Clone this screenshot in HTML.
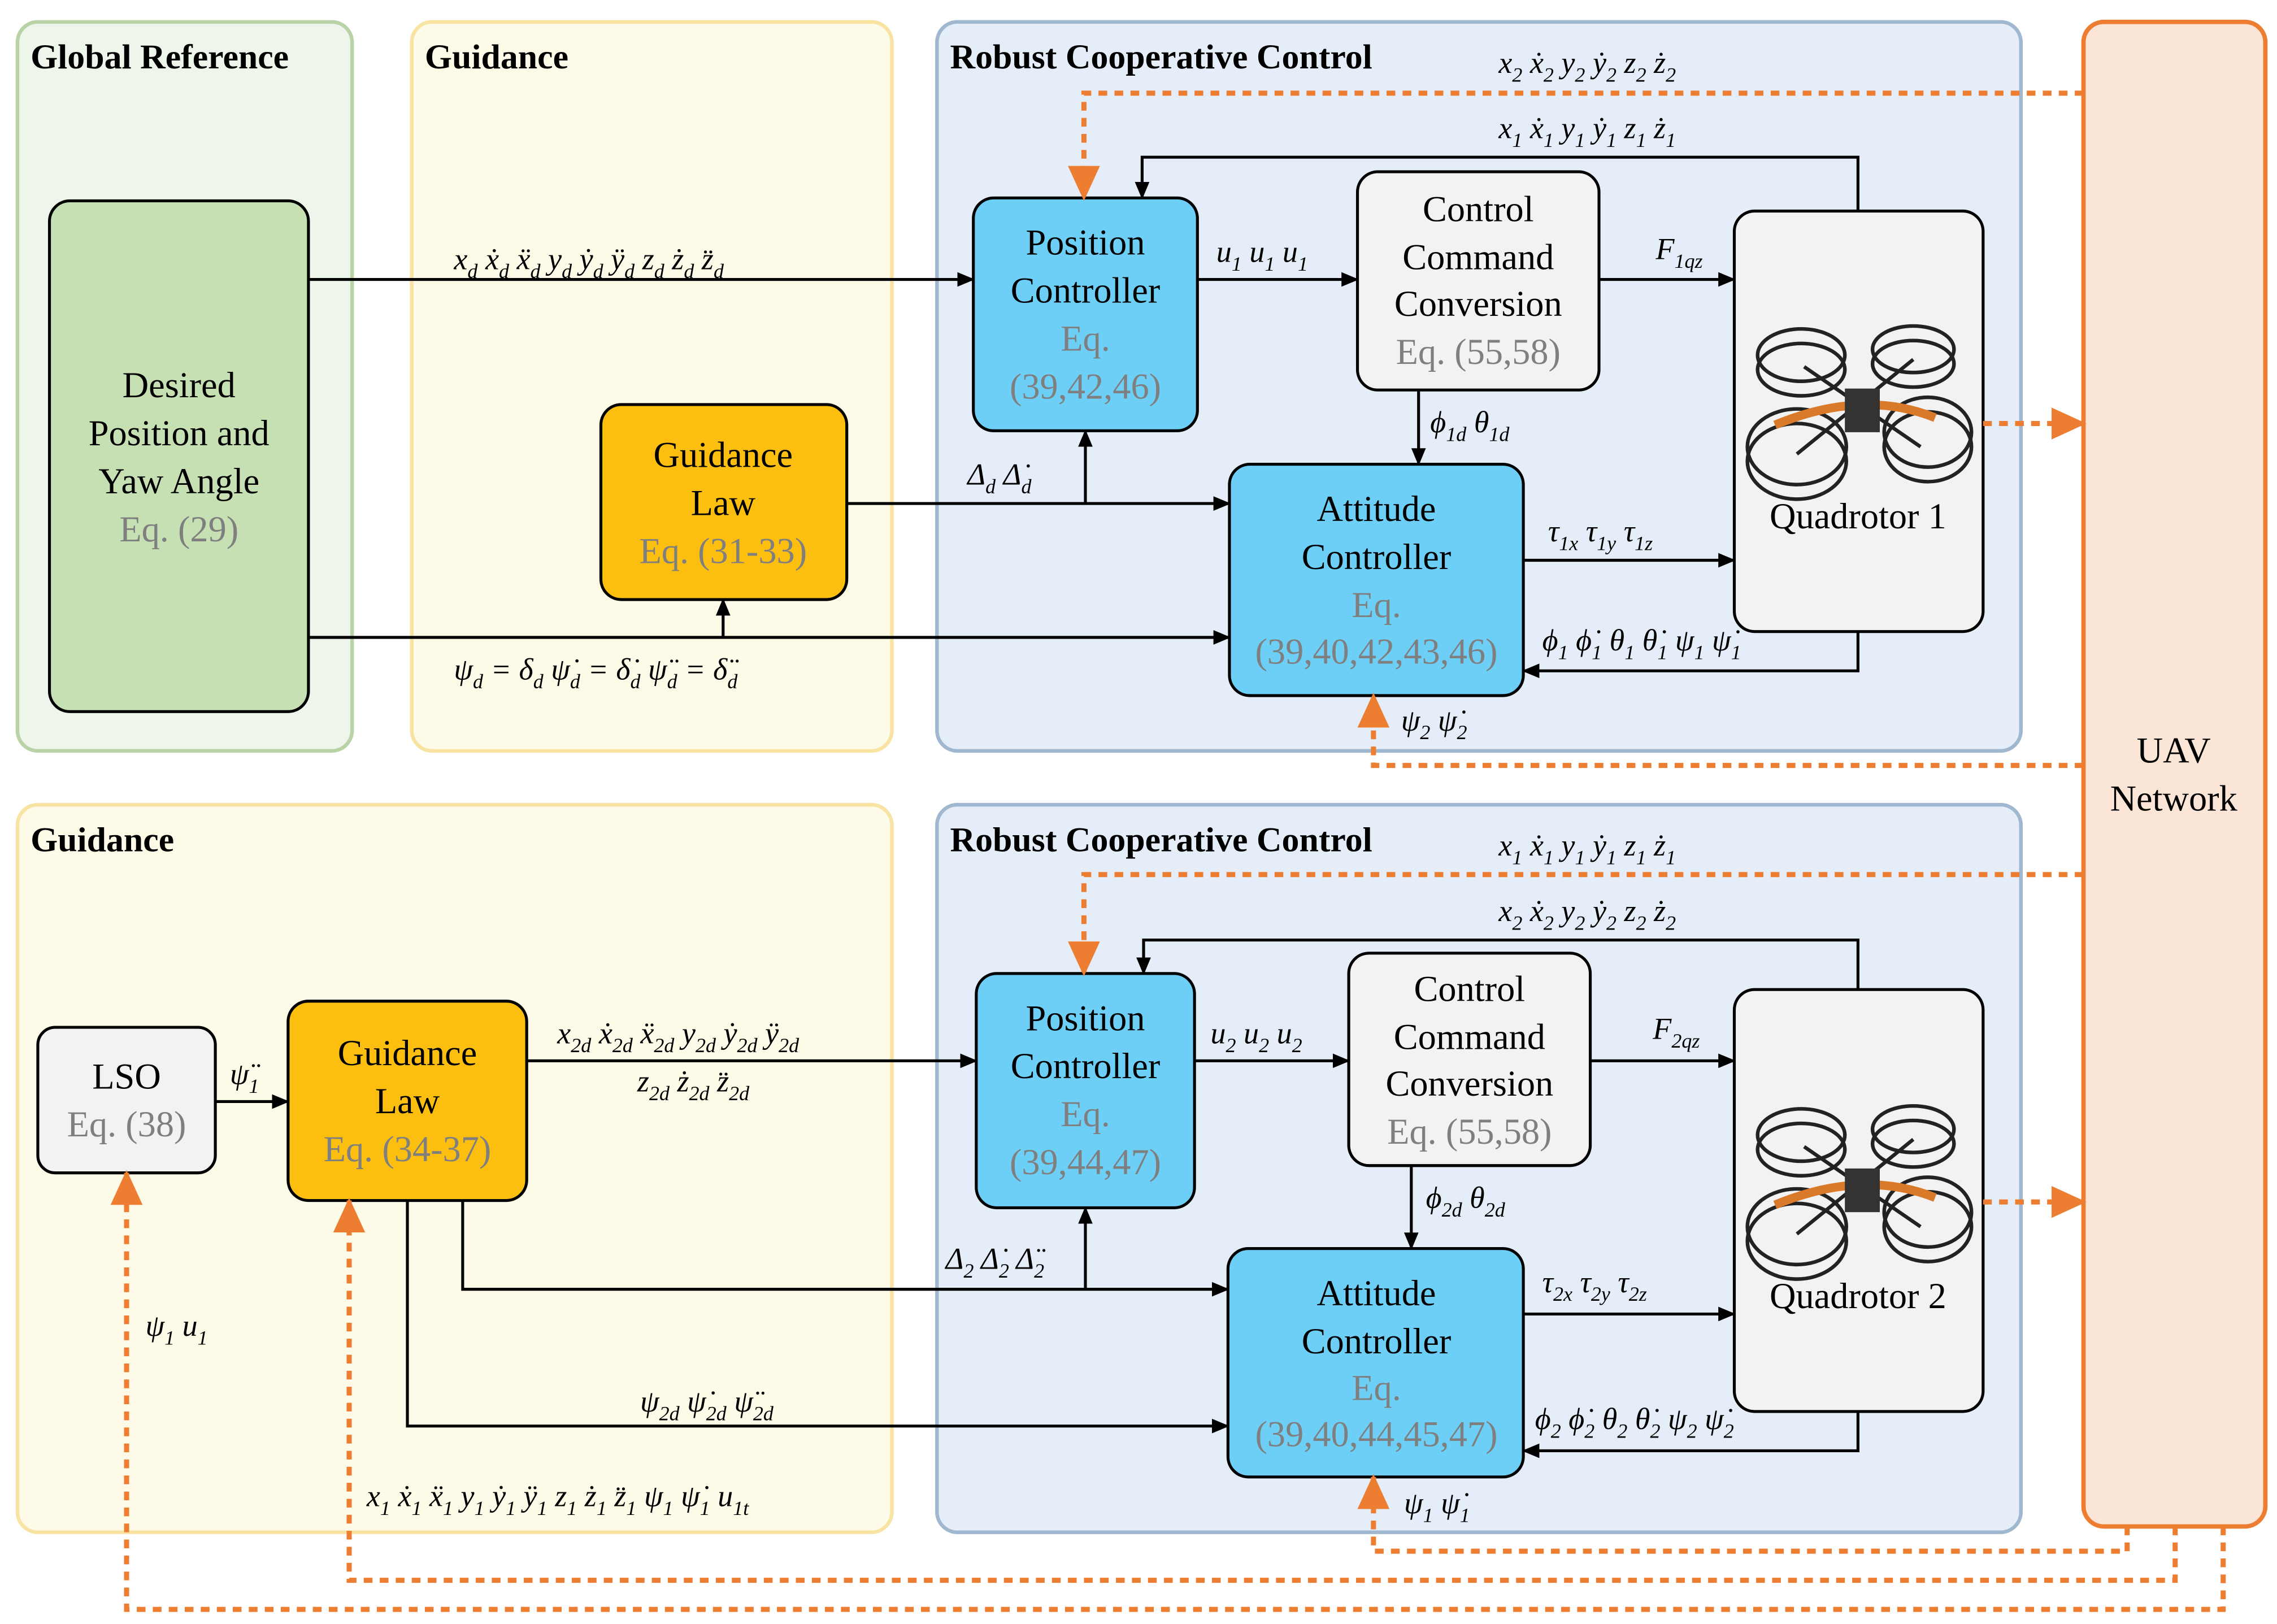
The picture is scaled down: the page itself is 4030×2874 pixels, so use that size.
<!DOCTYPE html>
<html><head><meta charset="utf-8"><style>
html,body{margin:0;padding:0;background:#fff}
svg{display:block}
text{font-family:"Liberation Serif",serif}
.h{font-weight:bold;font-size:24px}
.b{font-size:25px;text-anchor:middle}
.g{fill:#7f7f7f}
.m{font-style:italic;font-size:21px}
.s{font-size:14px}
.k{stroke:#000;stroke-width:2;fill:none}
.o{stroke:#ed7d31;stroke-width:3.5;fill:none;stroke-dasharray:6,5}
</style></head><body>
<svg width="4030" height="2874" viewBox="0 0 1565 1116" xmlns="http://www.w3.org/2000/svg">
<defs>
<marker id="a" markerWidth="12" markerHeight="10" refX="11" refY="5" orient="auto" markerUnits="userSpaceOnUse"><path d="M0,0 L12,5 L0,10z" fill="#000"/></marker>
<marker id="ao" markerWidth="24" markerHeight="22" refX="22" refY="11" orient="auto" markerUnits="userSpaceOnUse"><path d="M0,0 L24,11 L0,22z" fill="#ed7d31"/></marker>
<g id="drone">
<g stroke="#222" stroke-width="2.5" fill="none">
<ellipse cx="-42" cy="-38" rx="30" ry="18"/><ellipse cx="-42" cy="-28" rx="30" ry="18"/>
<ellipse cx="35" cy="-42" rx="28" ry="16"/><ellipse cx="35" cy="-32" rx="28" ry="16"/>
<ellipse cx="-45" cy="25" rx="34" ry="26"/><ellipse cx="-45" cy="35" rx="34" ry="26"/>
<ellipse cx="45" cy="15" rx="30" ry="24"/><ellipse cx="45" cy="25" rx="30" ry="24"/>
<path d="M-40,-30 L40,25 M35,-35 L-45,30"/>
</g>
<path d="M-60,10 Q0,-15 50,5" stroke="#d87a2a" stroke-width="6" fill="none"/>
<rect x="-12" y="-15" width="24" height="30" fill="#333"/>
</g>
</defs>

<rect x="12" y="15" width="230" height="501" rx="14" fill="#eef5ea" stroke="#b9d3a7" stroke-width="2.5"/>
<rect x="283" y="15" width="330" height="501" rx="14" fill="#fdfbe8" stroke="#f9e3a3" stroke-width="2.5"/>
<rect x="644" y="15" width="745" height="501" rx="14" fill="#e5eef8" stroke="#9fb7cf" stroke-width="2.5"/>
<rect x="12" y="553" width="601" height="500" rx="14" fill="#fdfbe8" stroke="#f9e3a3" stroke-width="2.5"/>
<rect x="644" y="553" width="745" height="500" rx="14" fill="#e5eef8" stroke="#9fb7cf" stroke-width="2.5"/>
<rect x="1432" y="15" width="125" height="1034" rx="14" fill="#fbe5d6" stroke="#ed7d31" stroke-width="3"/>

<text class="h" x="21" y="47">Global Reference</text>
<text class="h" x="292" y="47">Guidance</text>
<text class="h" x="653" y="47">Robust Cooperative Control</text>
<text class="h" x="21" y="585">Guidance</text>
<text class="h" x="653" y="585">Robust Cooperative Control</text>
<text class="b" x="1494" y="524">UAV</text><text class="b" x="1494" y="557">Network</text>

<rect x="34" y="138" width="178" height="351" rx="14" fill="#c6e0b4" stroke="#000" stroke-width="2"/>
<text class="b" x="123" y="273">Desired</text><text class="b" x="123" y="306">Position and</text><text class="b" x="123" y="339">Yaw Angle</text><text class="b g" x="123" y="372">Eq. (29)</text>
<rect x="413" y="278" width="169" height="134" rx="14" fill="#fcbf10" stroke="#000" stroke-width="2"/>
<text class="b" x="497" y="321">Guidance</text><text class="b" x="497" y="354">Law</text><text class="b g" x="497" y="387">Eq. (31-33)</text>
<rect x="669" y="136" width="154" height="160" rx="14" fill="#6dcff6" stroke="#000" stroke-width="2"/>
<text class="b" x="746" y="175">Position</text><text class="b" x="746" y="208">Controller</text><text class="b g" x="746" y="241">Eq.</text><text class="b g" x="746" y="274">(39,42,46)</text>
<rect x="933" y="118" width="166" height="150" rx="14" fill="#f2f2f2" stroke="#000" stroke-width="2"/>
<text class="b" x="1016" y="152">Control</text><text class="b" x="1016" y="185">Command</text><text class="b" x="1016" y="217">Conversion</text><text class="b g" x="1016" y="250">Eq. (55,58)</text>
<rect x="845" y="319" width="202" height="159" rx="14" fill="#6dcff6" stroke="#000" stroke-width="2"/>
<text class="b" x="946" y="358">Attitude</text><text class="b" x="946" y="391">Controller</text><text class="b g" x="946" y="424">Eq.</text><text class="b g" x="946" y="456">(39,40,42,43,46)</text>
<rect x="1192" y="145" width="171" height="289" rx="14" fill="#f2f2f2" stroke="#000" stroke-width="2"/>
<use href="#drone" x="1280" y="282"/>
<text class="b" x="1277" y="363">Quadrotor 1</text>

<rect x="26" y="706" width="122" height="100" rx="12" fill="#f2f2f2" stroke="#000" stroke-width="2"/>
<text class="b" x="87" y="748">LSO</text><text class="b g" x="87" y="781">Eq. (38)</text>
<rect x="198" y="688" width="164" height="137" rx="14" fill="#fcbf10" stroke="#000" stroke-width="2"/>
<text class="b" x="280" y="732">Guidance</text><text class="b" x="280" y="765">Law</text><text class="b g" x="280" y="798">Eq. (34-37)</text>
<rect x="671" y="669" width="150" height="161" rx="14" fill="#6dcff6" stroke="#000" stroke-width="2"/>
<text class="b" x="746" y="708">Position</text><text class="b" x="746" y="741">Controller</text><text class="b g" x="746" y="774">Eq.</text><text class="b g" x="746" y="807">(39,44,47)</text>
<rect x="927" y="655" width="166" height="146" rx="14" fill="#f2f2f2" stroke="#000" stroke-width="2"/>
<text class="b" x="1010" y="688">Control</text><text class="b" x="1010" y="721">Command</text><text class="b" x="1010" y="753">Conversion</text><text class="b g" x="1010" y="786">Eq. (55,58)</text>
<rect x="844" y="858" width="203" height="157" rx="14" fill="#6dcff6" stroke="#000" stroke-width="2"/>
<text class="b" x="946" y="897">Attitude</text><text class="b" x="946" y="930">Controller</text><text class="b g" x="946" y="962">Eq.</text><text class="b g" x="946" y="994">(39,40,44,45,47)</text>
<rect x="1192" y="680" width="171" height="290" rx="14" fill="#f2f2f2" stroke="#000" stroke-width="2"/>
<use href="#drone" x="1280" y="818"/>
<text class="b" x="1277" y="899">Quadrotor 2</text>

<path class="k" d="M212,192 H669" marker-end="url(#a)"/>
<path class="k" d="M212,438 H845" marker-end="url(#a)"/>
<path class="k" d="M497,438 V412" marker-end="url(#a)"/>
<path class="k" d="M582,346 H845" marker-end="url(#a)"/>
<path class="k" d="M746,346 V296" marker-end="url(#a)"/>
<path class="k" d="M823,192 H933" marker-end="url(#a)"/>
<path class="k" d="M1099,192 H1192" marker-end="url(#a)"/>
<path class="k" d="M975,268 V319" marker-end="url(#a)"/>
<path class="k" d="M1047,385 H1192" marker-end="url(#a)"/>
<path class="k" d="M1277,145 V108 H785 V136" marker-end="url(#a)"/>
<path class="k" d="M1277,434 V461 H1047" marker-end="url(#a)"/>
<path class="o" d="M1432,64 H745 V136" marker-end="url(#ao)"/>
<path class="o" d="M1432,526 H944 V478" marker-end="url(#ao)"/>
<path class="o" d="M1363,291 H1432" marker-end="url(#ao)"/>

<path class="k" d="M148,757 H198" marker-end="url(#a)"/>
<path class="k" d="M362,729 H671" marker-end="url(#a)"/>
<path class="k" d="M318,825 V886 H844" marker-end="url(#a)"/>
<path class="k" d="M746,886 V830" marker-end="url(#a)"/>
<path class="k" d="M280,825 V980 H844" marker-end="url(#a)"/>
<path class="k" d="M821,729 H927" marker-end="url(#a)"/>
<path class="k" d="M1093,729 H1192" marker-end="url(#a)"/>
<path class="k" d="M970,801 V858" marker-end="url(#a)"/>
<path class="k" d="M1047,903 H1192" marker-end="url(#a)"/>
<path class="k" d="M1277,680 V646 H786 V669" marker-end="url(#a)"/>
<path class="k" d="M1277,970 V997 H1047" marker-end="url(#a)"/>
<path class="o" d="M1432,601 H745 V669" marker-end="url(#ao)"/>
<path class="o" d="M1363,826 H1432" marker-end="url(#ao)"/>
<path class="o" d="M1462,1049 V1066 H944 V1015" marker-end="url(#ao)"/>
<path class="o" d="M1495,1049 V1086 H240 V825" marker-end="url(#ao)"/>
<path class="o" d="M1528,1049 V1106 H87 V806" marker-end="url(#ao)"/>

<text class="m" x="312" y="185">x<tspan class="s" dy="6">d</tspan><tspan dy="-6"> ẋ</tspan><tspan class="s" dy="6">d</tspan><tspan dy="-6"> ẍ</tspan><tspan class="s" dy="6">d</tspan><tspan dy="-6"> y</tspan><tspan class="s" dy="6">d</tspan><tspan dy="-6"> ẏ</tspan><tspan class="s" dy="6">d</tspan><tspan dy="-6"> ÿ</tspan><tspan class="s" dy="6">d</tspan><tspan dy="-6"> z</tspan><tspan class="s" dy="6">d</tspan><tspan dy="-6"> ż</tspan><tspan class="s" dy="6">d</tspan><tspan dy="-6"> z̈</tspan><tspan class="s" dy="6">d</tspan></text>
<text class="m" x="312" y="467">ψ<tspan class="s" dy="6">d</tspan><tspan dy="-6"> = δ</tspan><tspan class="s" dy="6">d</tspan><tspan dy="-6"> ψ̇</tspan><tspan class="s" dy="6">d</tspan><tspan dy="-6"> = δ̇</tspan><tspan class="s" dy="6">d</tspan><tspan dy="-6"> ψ̈</tspan><tspan class="s" dy="6">d</tspan><tspan dy="-6"> = δ̈</tspan><tspan class="s" dy="6">d</tspan></text>
<text class="m" x="665" y="333">Δ<tspan class="s" dy="6">d</tspan><tspan dy="-6"> Δ̇</tspan><tspan class="s" dy="6">d</tspan></text>
<text class="m" x="836" y="180">u<tspan class="s" dy="6">1</tspan><tspan dy="-6"> u</tspan><tspan class="s" dy="6">1</tspan><tspan dy="-6"> u</tspan><tspan class="s" dy="6">1</tspan></text>
<text class="m" x="1138" y="178">F<tspan class="s" dy="6">1qz</tspan></text>
<text class="m" x="983" y="297">ϕ<tspan class="s" dy="6">1d</tspan><tspan dy="-6"> θ</tspan><tspan class="s" dy="6">1d</tspan></text>
<text class="m" x="1064" y="372">τ<tspan class="s" dy="6">1x</tspan><tspan dy="-6"> τ</tspan><tspan class="s" dy="6">1y</tspan><tspan dy="-6"> τ</tspan><tspan class="s" dy="6">1z</tspan></text>
<text class="m" x="1060" y="447">ϕ<tspan class="s" dy="6">1</tspan><tspan dy="-6"> ϕ̇</tspan><tspan class="s" dy="6">1</tspan><tspan dy="-6"> θ</tspan><tspan class="s" dy="6">1</tspan><tspan dy="-6"> θ̇</tspan><tspan class="s" dy="6">1</tspan><tspan dy="-6"> ψ</tspan><tspan class="s" dy="6">1</tspan><tspan dy="-6"> ψ̇</tspan><tspan class="s" dy="6">1</tspan></text>
<text class="m" x="963" y="502">ψ<tspan class="s" dy="6">2</tspan><tspan dy="-6"> ψ̇</tspan><tspan class="s" dy="6">2</tspan></text>
<text class="m" x="1030" y="50">x<tspan class="s" dy="6">2</tspan><tspan dy="-6"> ẋ</tspan><tspan class="s" dy="6">2</tspan><tspan dy="-6"> y</tspan><tspan class="s" dy="6">2</tspan><tspan dy="-6"> ẏ</tspan><tspan class="s" dy="6">2</tspan><tspan dy="-6"> z</tspan><tspan class="s" dy="6">2</tspan><tspan dy="-6"> ż</tspan><tspan class="s" dy="6">2</tspan></text>
<text class="m" x="1030" y="95">x<tspan class="s" dy="6">1</tspan><tspan dy="-6"> ẋ</tspan><tspan class="s" dy="6">1</tspan><tspan dy="-6"> y</tspan><tspan class="s" dy="6">1</tspan><tspan dy="-6"> ẏ</tspan><tspan class="s" dy="6">1</tspan><tspan dy="-6"> z</tspan><tspan class="s" dy="6">1</tspan><tspan dy="-6"> ż</tspan><tspan class="s" dy="6">1</tspan></text>

<text class="m" x="1030" y="588">x<tspan class="s" dy="6">1</tspan><tspan dy="-6"> ẋ</tspan><tspan class="s" dy="6">1</tspan><tspan dy="-6"> y</tspan><tspan class="s" dy="6">1</tspan><tspan dy="-6"> ẏ</tspan><tspan class="s" dy="6">1</tspan><tspan dy="-6"> z</tspan><tspan class="s" dy="6">1</tspan><tspan dy="-6"> ż</tspan><tspan class="s" dy="6">1</tspan></text>
<text class="m" x="1030" y="633">x<tspan class="s" dy="6">2</tspan><tspan dy="-6"> ẋ</tspan><tspan class="s" dy="6">2</tspan><tspan dy="-6"> y</tspan><tspan class="s" dy="6">2</tspan><tspan dy="-6"> ẏ</tspan><tspan class="s" dy="6">2</tspan><tspan dy="-6"> z</tspan><tspan class="s" dy="6">2</tspan><tspan dy="-6"> ż</tspan><tspan class="s" dy="6">2</tspan></text>
<text class="m" x="158" y="745">ψ̈<tspan class="s" dy="6">1</tspan></text>
<text class="m" x="383" y="717">x<tspan class="s" dy="6">2d</tspan><tspan dy="-6"> ẋ</tspan><tspan class="s" dy="6">2d</tspan><tspan dy="-6"> ẍ</tspan><tspan class="s" dy="6">2d</tspan><tspan dy="-6"> y</tspan><tspan class="s" dy="6">2d</tspan><tspan dy="-6"> ẏ</tspan><tspan class="s" dy="6">2d</tspan><tspan dy="-6"> ÿ</tspan><tspan class="s" dy="6">2d</tspan></text>
<text class="m" x="438" y="750">z<tspan class="s" dy="6">2d</tspan><tspan dy="-6"> ż</tspan><tspan class="s" dy="6">2d</tspan><tspan dy="-6"> z̈</tspan><tspan class="s" dy="6">2d</tspan></text>
<text class="m" x="832" y="717">u<tspan class="s" dy="6">2</tspan><tspan dy="-6"> u</tspan><tspan class="s" dy="6">2</tspan><tspan dy="-6"> u</tspan><tspan class="s" dy="6">2</tspan></text>
<text class="m" x="1136" y="714">F<tspan class="s" dy="6">2qz</tspan></text>
<text class="m" x="980" y="830">ϕ<tspan class="s" dy="6">2d</tspan><tspan dy="-6"> θ</tspan><tspan class="s" dy="6">2d</tspan></text>
<text class="m" x="650" y="872">Δ<tspan class="s" dy="6">2</tspan><tspan dy="-6"> Δ̇</tspan><tspan class="s" dy="6">2</tspan><tspan dy="-6"> Δ̈</tspan><tspan class="s" dy="6">2</tspan></text>
<text class="m" x="1060" y="888">τ<tspan class="s" dy="6">2x</tspan><tspan dy="-6"> τ</tspan><tspan class="s" dy="6">2y</tspan><tspan dy="-6"> τ</tspan><tspan class="s" dy="6">2z</tspan></text>
<text class="m" x="1055" y="982">ϕ<tspan class="s" dy="6">2</tspan><tspan dy="-6"> ϕ̇</tspan><tspan class="s" dy="6">2</tspan><tspan dy="-6"> θ</tspan><tspan class="s" dy="6">2</tspan><tspan dy="-6"> θ̇</tspan><tspan class="s" dy="6">2</tspan><tspan dy="-6"> ψ</tspan><tspan class="s" dy="6">2</tspan><tspan dy="-6"> ψ̇</tspan><tspan class="s" dy="6">2</tspan></text>
<text class="m" x="440" y="970">ψ<tspan class="s" dy="6">2d</tspan><tspan dy="-6"> ψ̇</tspan><tspan class="s" dy="6">2d</tspan><tspan dy="-6"> ψ̈</tspan><tspan class="s" dy="6">2d</tspan></text>
<text class="m" x="965" y="1040">ψ<tspan class="s" dy="6">1</tspan><tspan dy="-6"> ψ̇</tspan><tspan class="s" dy="6">1</tspan></text>
<text class="m" x="100" y="918">ψ<tspan class="s" dy="6">1</tspan><tspan dy="-6"> u</tspan><tspan class="s" dy="6">1</tspan></text>
<text class="m" x="252" y="1035">x<tspan class="s" dy="6">1</tspan><tspan dy="-6"> ẋ</tspan><tspan class="s" dy="6">1</tspan><tspan dy="-6"> ẍ</tspan><tspan class="s" dy="6">1</tspan><tspan dy="-6"> y</tspan><tspan class="s" dy="6">1</tspan><tspan dy="-6"> ẏ</tspan><tspan class="s" dy="6">1</tspan><tspan dy="-6"> ÿ</tspan><tspan class="s" dy="6">1</tspan><tspan dy="-6"> z</tspan><tspan class="s" dy="6">1</tspan><tspan dy="-6"> ż</tspan><tspan class="s" dy="6">1</tspan><tspan dy="-6"> z̈</tspan><tspan class="s" dy="6">1</tspan><tspan dy="-6"> ψ</tspan><tspan class="s" dy="6">1</tspan><tspan dy="-6"> ψ̇</tspan><tspan class="s" dy="6">1</tspan><tspan dy="-6"> u</tspan><tspan class="s" dy="6">1t</tspan></text>
</svg>
</body></html>
